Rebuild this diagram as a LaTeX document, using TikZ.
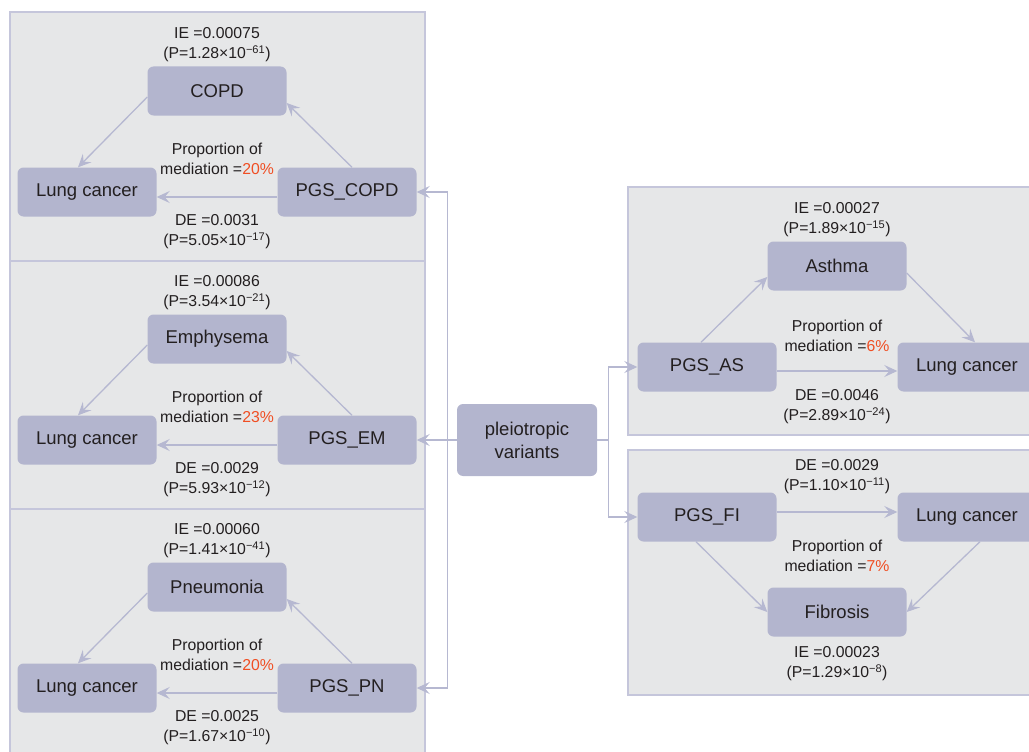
\documentclass[tikz,border=0pt]{standalone}
\usepackage{fontspec}
\setmainfont{Liberation Sans}
\usetikzlibrary{positioning, arrows.meta, calc}
\definecolor{panelfill}{HTML}{E6E7E8}
\definecolor{panelline}{HTML}{C5C6DB}
\definecolor{boxfill}{HTML}{B3B5CE}
\definecolor{linkcolor}{HTML}{B6B8D1}
\definecolor{inkgray}{HTML}{231F20}
\definecolor{pctred}{HTML}{F04E23}
\tikzset{
	x=1pt, y=-1pt, % pixel-like coordinates, y runs downwards
	node distance=101pt and 130pt, % from a mediator to the two outer boxes. Change if necessary.
	panel/.style={fill=panelfill, draw=panelline, line width=1.2pt}, % grey block behind each mediation triangle
	box/.style={rectangle, rounded corners=6pt, fill=boxfill, text=inkgray, minimum width=139pt, minimum height=49pt, font=\fontsize{18.5}{23}\selectfont, align=center, on grid}, % every variable box
	note/.style={align=center, inner sep=0pt, text=inkgray, font=\fontsize{15.8}{20}\selectfont}, % effect sizes and p values
	link/.style={draw=linkcolor, line width=1.3pt, -{Stealth[length=13pt,width=12pt,inset=5pt]}}, % arrows between boxes
}
\newcommand{\pct}[1]{\textcolor{pctred}{#1}}

\begin{document}
\begin{tikzpicture}
		\useasboundingbox (0,0) rectangle (1029,752);
		\clip (0,0) rectangle (1029,752);

		% background blocks
		\draw[panel] (10,12) rectangle (425,261);
		\draw[panel] (10,261) rectangle (425,509);
		\draw[panel] (10,509) rectangle (425,770);
		\draw[panel] (628,187) rectangle (1045,435);
		\draw[panel] (628,450) rectangle (1045,695);

		% COPD
		\node[box] (copd_node) at (217,91) {COPD};
		\node[box, below left=of copd_node] (lc_copd) {Lung cancer};
		\node[box, below right=of copd_node] (pgs_copd) {PGS\_COPD};
		\node[note, above=4pt of copd_node] (ie_copd) {IE =0.00075\\(P=1.28×10\textsuperscript{−61})};
		\node[note, yshift=33pt] (prop_copd) at ($(lc_copd)!0.5!(pgs_copd)$) {Proportion of\\mediation =\pct{20\%}};
		\node[note, yshift=-40pt] (de_copd) at ($(lc_copd)!0.5!(pgs_copd)$) {DE =0.0031\\(P=5.05×10\textsuperscript{−17})};

		% Emphysema
		\node[box] (emph_node) at (217,339) {Emphysema};
		\node[box, below left=of emph_node] (lc_em) {Lung cancer};
		\node[box, below right=of emph_node] (pgs_em) {PGS\_EM};
		\node[note, above=4pt of emph_node] (ie_em) {IE =0.00086\\(P=3.54×10\textsuperscript{−21})};
		\node[note, yshift=33pt] (prop_em) at ($(lc_em)!0.5!(pgs_em)$) {Proportion of\\mediation =\pct{23\%}};
		\node[note, yshift=-40pt] (de_em) at ($(lc_em)!0.5!(pgs_em)$) {DE =0.0029\\(P=5.93×10\textsuperscript{−12})};

		% Pneumonia
		\node[box] (pneu_node) at (217,587) {Pneumonia};
		\node[box, below left=of pneu_node] (lc_pn) {Lung cancer};
		\node[box, below right=of pneu_node] (pgs_pn) {PGS\_PN};
		\node[note, above=4pt of pneu_node] (ie_pn) {IE =0.00060\\(P=1.41×10\textsuperscript{−41})};
		\node[note, yshift=33pt] (prop_pn) at ($(lc_pn)!0.5!(pgs_pn)$) {Proportion of\\mediation =\pct{20\%}};
		\node[note, yshift=-40pt] (de_pn) at ($(lc_pn)!0.5!(pgs_pn)$) {DE =0.0025\\(P=1.67×10\textsuperscript{−10})};

		% Asthma
		\node[box] (pgs_as) at (707,367) {PGS\_AS};
		\node[box, above right=of pgs_as] (asthma_node) {Asthma};
		\node[box, below right=of asthma_node] (lc_as) {Lung cancer};
		\node[note, above=4pt of asthma_node] (ie_as) {IE =0.00027\\(P=1.89×10\textsuperscript{−15})};
		\node[note, yshift=31pt] (prop_as) at ($(pgs_as)!0.5!(lc_as)$) {Proportion of\\mediation =\pct{6\%}};
		\node[note, yshift=-40pt] (de_as) at ($(pgs_as)!0.5!(lc_as)$) {DE =0.0046\\(P=2.89×10\textsuperscript{−24})};

		% Fibrosis
		\node[box] (pgs_fi) at (707,517) {PGS\_FI};
		\node[box, right=260pt of pgs_fi] (lc_fi) {Lung cancer};
		\node[box, below right=95pt and 130pt of pgs_fi] (fibrosis_node) {Fibrosis};
		\node[note, yshift=40pt] (de_fi) at ($(pgs_fi)!0.5!(lc_fi)$) {DE =0.0029\\(P=1.10×10\textsuperscript{−11})};
		\node[note, yshift=-39pt] (prop_fi) at ($(pgs_fi)!0.5!(lc_fi)$) {Proportion of\\mediation =\pct{7\%}};
		\node[note, below=10pt of fibrosis_node] (ie_fi) {IE =0.00023\\(P=1.29×10\textsuperscript{−8})};

		% pleiotropic variants in the middle
		\node[box, minimum width=140pt, minimum height=72pt] (pleio) at (527,440) {pleiotropic\\variants};
		\coordinate (left_split) at ([xshift=-9pt]pleio.west);
		\coordinate (right_split) at ([xshift=11pt]pleio.east);

		\draw[link] ([yshift=-6pt]copd_node.west) -- ([xshift=-9pt]lc_copd.north);
		\draw[link] ([xshift=5pt]pgs_copd.north) -- ([yshift=-12pt]copd_node.east);
		\draw[link] ([yshift=-5pt]pgs_copd.west) -- ([yshift=-5pt]lc_copd.east);

		\draw[link] ([yshift=-6pt]emph_node.west) -- ([xshift=-9pt]lc_em.north);
		\draw[link] ([xshift=5pt]pgs_em.north) -- ([yshift=-12pt]emph_node.east);
		\draw[link] ([yshift=-5pt]pgs_em.west) -- ([yshift=-5pt]lc_em.east);

		\draw[link] ([yshift=-6pt]pneu_node.west) -- ([xshift=-9pt]lc_pn.north);
		\draw[link] ([xshift=5pt]pgs_pn.north) -- ([yshift=-12pt]pneu_node.east);
		\draw[link] ([yshift=-5pt]pgs_pn.west) -- ([yshift=-5pt]lc_pn.east);

		\draw[link] ([xshift=-6pt]pgs_as.north) -- ([yshift=-11pt]asthma_node.west);
		\draw[link] ([yshift=-7pt]asthma_node.east) -- ([xshift=8pt]lc_as.north);
		\draw[link] ([yshift=-4pt]pgs_as.east) -- ([yshift=-4pt]lc_as.west);

		\draw[link] ([yshift=5pt]pgs_fi.east) -- ([yshift=5pt]lc_fi.west);
		\draw[link] ([xshift=-11pt]pgs_fi.south) -- (fibrosis_node.west);
		\draw[link] ([xshift=13pt]lc_fi.south) -- (fibrosis_node.east);

		\draw[link] (pleio) -- (pgs_em);
		\draw[link] (left_split) |- (pgs_copd);
		\draw[link] (left_split) |- (pgs_pn);
		\draw[draw=linkcolor, line width=1.3pt] (pleio) -- (right_split);
		\draw[link] (right_split) |- (pgs_as);
		\draw[link] (right_split) |- (pgs_fi);
	\end{tikzpicture}
\end{document}
